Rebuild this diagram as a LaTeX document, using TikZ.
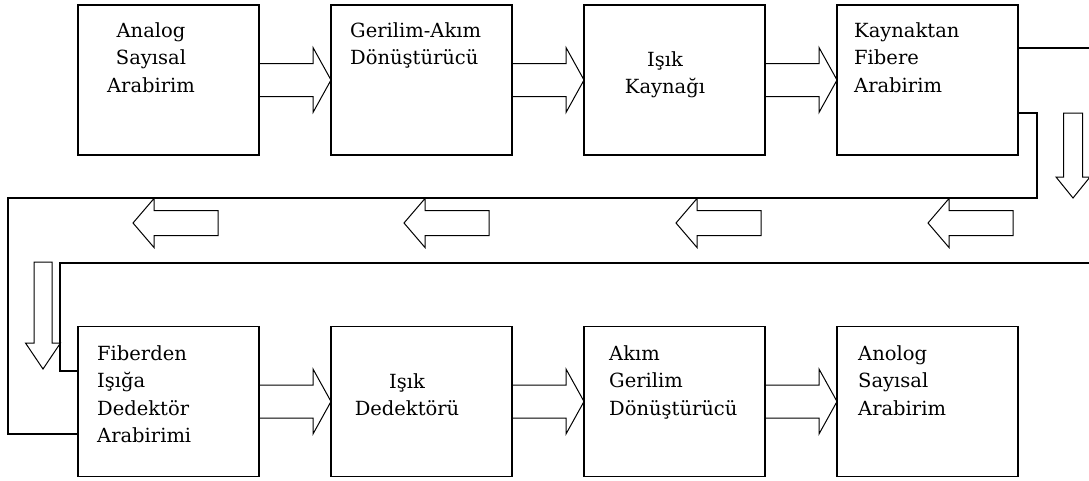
\documentclass[tikz,border=0pt]{standalone}
\usepackage{fontspec}
\setmainfont{DejaVu Serif}
\usetikzlibrary{positioning}
\newcommand{\boxfont}{\fontsize{19.5pt}{27.5pt}\selectfont}
\tikzset{
  blk/.style={rectangle,draw,line width=1.3pt,minimum width=181pt,minimum height=150pt,inner sep=0pt,outer sep=0pt},
  lbl/.style={inner sep=0pt,font=\boxfont,text width=200pt,align=left,anchor=base west},
  clbl/.style={inner sep=0pt,font=\boxfont,text width=150pt,align=center,anchor=base},
  fiber/.style={line width=1.3pt},
  hollow/.style={draw,line width=1pt,line join=miter},
  fatarrow/.style={line width=1pt,line join=miter,to path={
    ([yshift=16.5pt]\tikztostart) -- ([xshift=-18pt,yshift=16.5pt]\tikztotarget)
    -- ([xshift=-18pt,yshift=32.5pt]\tikztotarget) -- (\tikztotarget)
    -- ([xshift=-18pt,yshift=-32.5pt]\tikztotarget) -- ([xshift=-18pt,yshift=-16.5pt]\tikztotarget)
    -- ([yshift=-16.5pt]\tikztostart)}}
}

\begin{document}
\begin{tikzpicture}[x=1pt,y=-1pt,node distance=72pt]
  \useasboundingbox (0,0) rectangle (1089,480);

  % transmitter row
  \node[blk] (b1) at (168.5,80) {};
  \node[blk, right=of b1] (b2) {};
  \node[blk, right=of b2] (b3) {};
  \node[blk, right=of b3] (b4) {};

  % receiver row
  \node[blk] (b5) at (168.5,401.5) {};
  \node[blk, right=of b5] (b6) {};
  \node[blk, right=of b6] (b7) {};
  \node[blk, right=of b7] (b8) {};

  \node[clbl] (t1) at ([xshift=-17.5pt,yshift=-32pt]b1.north) {Analog\\Sayısal\\Arabirim};
  \node[lbl] (t2) at ([xshift=19pt,yshift=-32pt]b2.north west) {Gerilim-Akım\\Dönüştürücü};
  \node[clbl] (t3) at ([xshift=-9.5pt,yshift=-61pt]b3.north) {Işık\\Kaynağı};
  \node[lbl] (t4) at ([xshift=17pt,yshift=-32pt]b4.north west) {Kaynaktan\\Fibere\\Arabirim};
  \node[lbl] (t5) at ([xshift=19pt,yshift=-33.5pt]b5.north west) {Fiberden\\Işığa\\Dedektör\\Arabirimi};
  \node[clbl] (t6) at ([xshift=-14.5pt,yshift=-61.5pt]b6.north) {Işık\\Dedektörü};
  \node[lbl] (t7) at ([xshift=25pt,yshift=-33.5pt]b7.north west) {Akım\\Gerilim\\Dönüştürücü};
  \node[lbl] (t8) at ([xshift=21pt,yshift=-33.5pt]b8.north west) {Anolog\\Sayısal\\Arabirim};

  \draw[fatarrow] (b1.east) to (b2.west);
  \draw[fatarrow] (b2.east) to (b3.west);
  \draw[fatarrow] (b3.east) to (b4.west);
  \draw[fatarrow] (b5.east) to (b6.west);
  \draw[fatarrow] (b6.east) to (b7.west);
  \draw[fatarrow] (b7.east) to (b8.west);

  % fiber loop
  \coordinate (edgeA) at (1089,48);
  \coordinate (edgeB) at (1089,263);
  \coordinate (ret) at (1037,198);
  \coordinate (lft) at (8,434);
  \coordinate (inr) at (60,371);
  \draw[fiber] ([yshift=32pt]b4.east) -- (edgeA);
  \draw[fiber] ([yshift=-33pt]b4.east) -| (ret) -| (lft) -- ([yshift=-32.5pt]b5.west);
  \draw[fiber] (edgeB) -| (inr) -- ([yshift=30.5pt]b5.west);

  % direction marks
  \foreach \t in {133,404,676,928}
    \draw[hollow] (\t,223) -- ++(21,-24.5) -- ++(0,12) -- ++(64,0) -- ++(0,25)
      -- ++(-64,0) -- ++(0,12) -- cycle;
  \draw[hollow] (1073,198) -- ++(-17,-21) -- ++(7.5,0) -- ++(0,-64) -- ++(19,0)
    -- ++(0,64) -- ++(7.5,0) -- cycle;
  \draw[hollow] (43,369) -- ++(-17.5,-26) -- ++(8.5,0) -- ++(0,-81) -- ++(18,0)
    -- ++(0,81) -- ++(8.5,0) -- cycle;
\end{tikzpicture}
\end{document}
